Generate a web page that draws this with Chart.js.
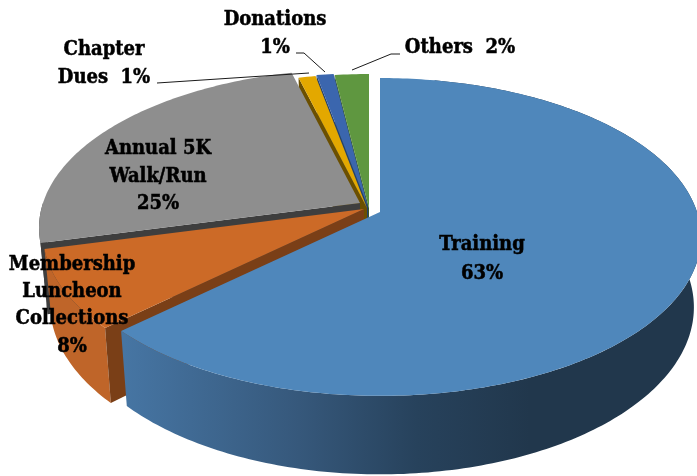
<!DOCTYPE html>
<html>
<head>
<meta charset="utf-8">
<style>
  html, body { margin: 0; background: #fff; }
  canvas { display: block; }
</style>
<script src="https://cdn.jsdelivr.net/npm/chart.js@4"></script>
</head>
<body>
<canvas id="fundsPie" width="697" height="476"></canvas>
<script>
const categories = ['Training', 'Membership Luncheon Collections', 'Annual 5K Walk/Run', 'Chapter Dues', 'Donations', 'Others'];
const percents = [63, 8, 25, 1, 1, 2];

const topColors = ['#4F87BB', '#CC6A27', '#8E8E8E', '#E3A800', '#3B66AE', '#5F9740'];
const wallColors = ['#21374C', '#7A3F17', '#3E3E3E', '#6B4F00', '#24406E', '#37582A'];
const sideColors = [null, '#BF6529', '#4A4A4A', '#6B4F00', '#24406E', '#37582A'];

// how far each slice is pulled away from the pie centre, in px
const explode = [[0, 0], [-16, -3], [-20, -9], [-13, -4], [-12, -5], [-11, -4]];

// perspective of the tilted pie
const cx = 380, cy = 212, depth = 69;
const tilt = 0.157;
const topRx = 317, topRy = 155, baseRx = 310, baseRy = 163;

function proj(a, isBase, shift, atCentre) {
    const u = atCentre ? 0 : Math.sin(a);
    const v = atCentre ? 0 : -Math.cos(a);
    const w = 1 - tilt * v;
    return {
        x: cx + shift[0] + (isBase ? baseRx : topRx) * u / w,
        y: cy + shift[1] + (isBase ? depth + baseRy * v / w : topRy * v / w)
    };
}

function arcPoints(a0, a1, isBase, shift) {
    const pts = [];
    const n = Math.max(4, Math.ceil((a1 - a0) * 60));
    for (let i = 0; i <= n; i++) {
        pts.push(proj(a0 + (a1 - a0) * i / n, isBase, shift));
    }
    return pts;
}

function fillPoly(ctx, pts, color) {
    ctx.beginPath();
    pts.forEach((p, i) => i ? ctx.lineTo(p.x, p.y) : ctx.moveTo(p.x, p.y));
    ctx.closePath();
    ctx.fillStyle = color;
    ctx.fill();
}

const tiltedPie = {
    id: 'tiltedPie',
    beforeDatasetDraw() {
        return false;
    },
    afterDatasetsDraw(chart) {
        const ctx = chart.ctx;
        const arcs = chart.getDatasetMeta(0).data;
        // back slices first, Training goes on top
        for (let i = arcs.length - 1; i >= 0; i--) {
            const a0 = arcs[i].startAngle + Math.PI / 2;
            const a1 = arcs[i].endAngle + Math.PI / 2;
            const s = explode[i];

            // outer rim, only where it faces the viewer
            const r0 = Math.max(a0, i === 0 ? 0.2 : Math.PI / 2);
            const r1 = Math.min(a1, Math.PI * 1.5);
            if (r1 > r0) {
                let rim = sideColors[i];
                if (i === 0) {
                    rim = ctx.createLinearGradient(125, 0, 530, 0);
                    rim.addColorStop(0, '#4675A3');
                    rim.addColorStop(0.43, '#36587B');
                    rim.addColorStop(0.72, '#27425C');
                    rim.addColorStop(1, '#21374C');
                }
                fillPoly(ctx, arcPoints(r0, r1, false, s).concat(arcPoints(r0, r1, true, s).reverse()), rim);
            }

            // cut wall on the leading edge
            if (Math.sin(a0) < -0.01) {
                fillPoly(ctx, [
                    proj(0, false, s, true),
                    proj(a0, false, s),
                    proj(a0, true, s),
                    proj(0, true, s, true)
                ], wallColors[i]);
            }

            fillPoly(ctx, [proj(0, false, s, true)].concat(arcPoints(a0, a1, false, s)), topColors[i]);
        }
    },
    afterDraw(chart) {
        const ctx = chart.ctx;
        // leader lines
        ctx.strokeStyle = '#1a1a1a';
        ctx.lineWidth = 1;
        [
            [[157, 83], [309, 73]],
            [[296, 53], [304, 53], [325, 72]],
            [[352, 70], [391, 54], [400, 54]]
        ].forEach(line => {
            ctx.beginPath();
            line.forEach((p, i) => i ? ctx.lineTo(p[0], p[1]) : ctx.moveTo(p[0], p[1]));
            ctx.stroke();
        });

        ctx.fillStyle = '#000';
        ctx.strokeStyle = '#000';
        ctx.lineWidth = 0.5;
        ctx.font = 'bold 20px "DejaVu Serif Condensed", "DejaVu Serif", serif';
        ctx.textAlign = 'center';
        ctx.textBaseline = 'middle';
        const pct = i => percents[i] + '%';
        [
            ['Training', 482, 245], [pct(0), 482, 274],
            ['Membership', 72, 265], ['Luncheon', 72, 292], ['Collections', 72, 319], [pct(1), 72, 347],
            ['Annual 5K', 158, 149], ['Walk/Run', 158, 177], [pct(2), 158, 204],
            ['Chapter', 104, 50], ['Dues  ' + pct(3), 104, 78],
            ['Donations', 275, 20], [pct(4), 275, 48],
            ['Others  ' + pct(5), 460, 48]
        ].forEach(t => {
            ctx.fillText(t[0], t[1], t[2]);
            ctx.strokeText(t[0], t[1], t[2]);
        });
    }
};

new Chart(document.getElementById('fundsPie'), {
    type: 'pie',
    data: {
        labels: categories,
        datasets: [{
            data: percents,
            backgroundColor: topColors,
            borderWidth: 0
        }]
    },
    options: {
        responsive: false,
        animation: false,
        plugins: {
            legend: { display: false },
            tooltip: { enabled: false }
        }
    },
    plugins: [tiltedPie]
});
</script>
</body>
</html>
